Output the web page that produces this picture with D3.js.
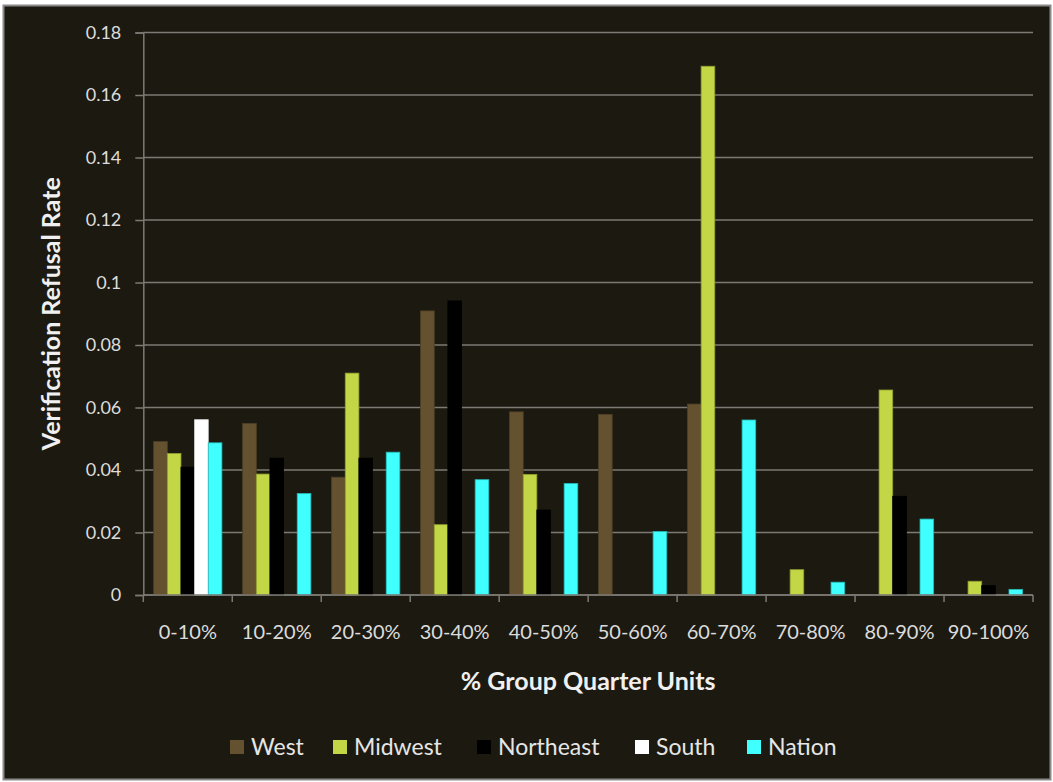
<!DOCTYPE html>
<html>
<head>
<meta charset="utf-8">
<script src="https://cdn.jsdelivr.net/npm/d3@7"></script>
<style>
  html, body { margin: 0; padding: 0; background: #ffffff; }
  svg { display: block; }
  text { font-family: Lato, "Open Sans", sans-serif; }
</style>
</head>
<body>
<svg id="chart" width="1053" height="782"></svg>
<script>
// Share of group quarter units per block, in 10% bins
const categories = ["0-10%", "10-20%", "20-30%", "30-40%", "40-50%", "50-60%", "60-70%", "70-80%", "80-90%", "90-100%"];

const seriesNames = ["West", "Midwest", "Northeast", "South", "Nation"];

// Verification refusal rate by region (null = no bar)
const west      = [0.0491, 0.0549, 0.0377, 0.0909, 0.0586, 0.0578, 0.0611, null,   null,   null];
const midwest   = [0.0453, 0.0387, 0.0710, 0.0225, 0.0386, null,   0.1692, 0.0081, 0.0656, 0.0044];
const northeast = [0.0409, 0.0438, 0.0438, 0.0941, 0.0272, null,   null,   null,   0.0316, 0.0030];
const south     = [0.0561, null,   null,   null,   null,   null,   null,   null,   null,   null];
const nation    = [0.0487, 0.0325, 0.0457, 0.0369, 0.0357, 0.0203, 0.0560, 0.0041, 0.0243, 0.0018];

const yTicks = [0, 0.02, 0.04, 0.06, 0.08, 0.1, 0.12, 0.14, 0.16, 0.18];

const seriesValues = [west, midwest, northeast, south, nation];
const colors = ["#64512f", "#c3d746", "#000000", "#ffffff", "#40ffff"];
const strokes = ["#4f4026", "#8f9e2e", "#000000", "#d8d8d8", "#25b8b8"];

const svg = d3.select("#chart");

// frame
svg.append("rect")
  .attr("x", 3.5).attr("y", 5.5)
  .attr("width", 1047).attr("height", 774)
  .attr("fill", "#1c1a10")
  .attr("stroke", "#8a8a8a").attr("stroke-width", 2);

const plot = { left: 143.3, right: 1033, top: 32.5, bottom: 595 };

const x0 = d3.scaleBand().domain(categories).range([plot.left, plot.right]).paddingInner(0).paddingOuter(0);
const x1 = d3.scaleBand().domain(seriesNames).range([0, x0.bandwidth()]).paddingInner(0).paddingOuter(0.76);
const y = d3.scaleLinear().domain([0, 0.18]).range([plot.bottom, plot.top]);

const gridColor = "#7c7a74";

// horizontal gridlines
svg.append("g")
  .selectAll("line")
  .data(yTicks)
  .join("line")
  .attr("x1", plot.left).attr("x2", plot.right)
  .attr("y1", d => y(d)).attr("y2", d => y(d))
  .attr("stroke", gridColor).attr("stroke-width", 1.5);

// y axis
const yAxis = d3.axisLeft(y).tickValues(yTicks).tickSize(8).tickPadding(14).tickFormat(d => d3.format("")(+d.toFixed(2)));
const gy = svg.append("g").attr("transform", `translate(${plot.left},0)`).call(yAxis);
gy.select(".domain").attr("stroke", gridColor).attr("stroke-width", 1.5);
gy.selectAll(".tick line").attr("stroke", gridColor).attr("stroke-width", 1.5);
gy.selectAll(".tick text")
  .attr("fill", "#dcdcdc")
  .attr("font-size", 18)
  .attr("font-family", "Lato, sans-serif");

// bars
const groups = svg.append("g")
  .selectAll("g")
  .data(categories)
  .join("g")
  .attr("transform", d => `translate(${x0(d)},0)`);

groups.selectAll("rect")
  .data((c, i) => seriesNames.map((s, k) => ({ s, k, v: seriesValues[k][i] })).filter(d => d.v != null))
  .join("rect")
  .attr("x", d => x1(d.s))
  .attr("width", x1.bandwidth())
  .attr("y", d => y(d.v))
  .attr("height", d => y(0) - y(d.v))
  .attr("fill", d => colors[d.k])
  .attr("stroke", d => strokes[d.k])
  .attr("stroke-width", 0.8);

// x axis with ticks at category boundaries
const xAxis = d3.axisBottom(x0).tickSize(0).tickPadding(30);
const gx = svg.append("g").attr("transform", `translate(0,${plot.bottom})`).call(xAxis);
gx.select(".domain").remove();
gx.selectAll(".tick text")
  .attr("fill", "#dcdcdc")
  .attr("font-size", 20)
  .attr("font-family", "Lato, sans-serif");

svg.append("line")
  .attr("x1", plot.left).attr("x2", plot.right)
  .attr("y1", plot.bottom).attr("y2", plot.bottom)
  .attr("stroke", gridColor).attr("stroke-width", 1.5);

const boundaries = categories.map(c => x0(c)).concat([plot.right]);
svg.append("g")
  .selectAll("line")
  .data(boundaries)
  .join("line")
  .attr("x1", d => d).attr("x2", d => d)
  .attr("y1", plot.bottom).attr("y2", plot.bottom + 7)
  .attr("stroke", gridColor).attr("stroke-width", 1.5);

// axis titles
svg.append("text")
  .attr("x", (plot.left + plot.right) / 2)
  .attr("y", 690)
  .attr("text-anchor", "middle")
  .attr("fill", "#f0f0f0")
  .attr("font-size", 25)
  .attr("font-weight", "bold")
  .text("% Group Quarter Units");

svg.append("text")
  .attr("transform", `translate(60,${(plot.top + plot.bottom) / 2}) rotate(-90)`)
  .attr("text-anchor", "middle")
  .attr("fill", "#f0f0f0")
  .attr("font-size", 25)
  .attr("font-weight", "bold")
  .text("Verification Refusal Rate");

// legend
const legendX = [230, 333, 477, 635, 747];
const legend = svg.append("g")
  .selectAll("g")
  .data(seriesNames)
  .join("g")
  .attr("transform", (d, i) => `translate(${legendX[i]},740)`);

legend.append("rect")
  .attr("width", 14).attr("height", 14)
  .attr("fill", (d, i) => colors[i]);

legend.append("text")
  .attr("x", 21)
  .attr("y", 15)
  .attr("fill", "#e6e6e6")
  .attr("font-size", 23)
  .text(d => d);
</script>
</body>
</html>
